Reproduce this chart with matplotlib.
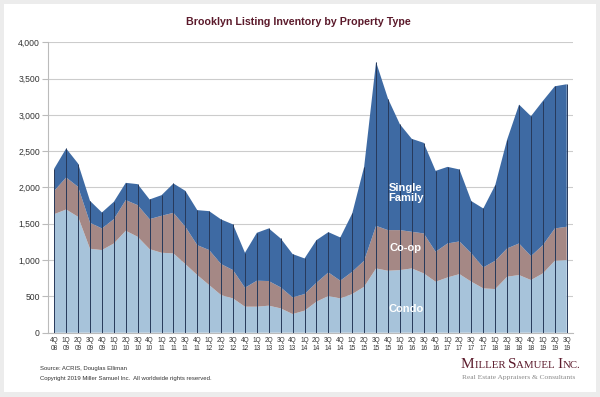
import matplotlib.pyplot as plt
from matplotlib.patches import Rectangle
import numpy as np

quarters = ['4Q\n08',
            '1Q\n09', '2Q\n09', '3Q\n09', '4Q\n09',
            '1Q\n10', '2Q\n10', '3Q\n10', '4Q\n10',
            '1Q\n11', '2Q\n11', '3Q\n11', '4Q\n11',
            '1Q\n12', '2Q\n12', '3Q\n12', '4Q\n12',
            '1Q\n13', '2Q\n13', '3Q\n13', '4Q\n13',
            '1Q\n14', '2Q\n14', '3Q\n14', '4Q\n14',
            '1Q\n15', '2Q\n15', '3Q\n15', '4Q\n15',
            '1Q\n16', '2Q\n16', '3Q\n16', '4Q\n16',
            '1Q\n17', '2Q\n17', '3Q\n17', '4Q\n17',
            '1Q\n18', '2Q\n18', '3Q\n18', '4Q\n18',
            '1Q\n19', '2Q\n19', '3Q\n19']

condo = [1633, 1697, 1596, 1156, 1138, 1229, 1404, 1321, 1151, 1101, 1092, 945,
         794, 656, 518, 472, 358, 358, 372, 335, 257, 303, 427, 505, 472, 532,
         633, 885, 853, 862, 885, 817, 702, 761, 807, 702, 610, 601, 771, 794,
         725, 817, 991, 1000]
coop = [321, 441, 413, 358, 298, 335, 422, 436, 413, 509, 559, 514, 412, 482,
        427, 390, 261, 358, 339, 289, 229, 229, 261, 325, 244, 307, 358, 587,
        560, 551, 505, 550, 413, 468, 450, 390, 289, 390, 390, 435, 330, 389,
        445, 459]
single_family = [307, 399, 321, 302, 220, 239, 238, 289, 271, 284, 404, 495,
                 482, 536, 615, 629, 482, 660, 725, 674, 597, 491, 587, 555, 596,
                 803, 1293, 2257, 1812, 1458, 1280, 1248, 1114, 1055, 991, 720,
                 812, 1041, 1499, 1913, 1927, 1987, 1958, 1963]

yticks = [0, 500, 1000, 1500, 2000, 2500, 3000, 3500, 4000]

c_condo = '#a7c3da'
c_coop = '#a58885'
c_sf = '#3e6aa3'
maroon = '#5b1a2b'

fig = plt.figure(figsize=(6, 3.97), dpi=100)
fig.patch.set_facecolor('#ececec')
fig.patches.append(Rectangle((0.006, 0.012), 0.988, 0.978, transform=fig.transFigure,
                             facecolor='white', edgecolor='none', zorder=-5))

ax = fig.add_axes([0.0805, 0.162, 0.874, 0.7315])
ax.set_zorder(2)
ax.set_facecolor('none')
x = np.arange(len(quarters))
ax.stackplot(x, condo, coop, single_family, colors=[c_condo, c_coop, c_sf],
             linewidth=0, zorder=2)
total = np.array(condo) + np.array(coop) + np.array(single_family)
ax.vlines(x, 0, total, colors='#27395a', linewidth=0.7, zorder=3)

ax.set_xlim(-0.5, len(quarters) - 0.5)
ax.set_ylim(0, 4000)
ax.set_yticks(yticks)
ax.set_yticklabels(['{:,}'.format(v) for v in yticks], fontsize=6.2,
                   family='Liberation Sans', color='#333333')
ax.set_xticks(x)
ax.set_xticklabels(quarters, fontsize=4.7, family='Liberation Sans',
                   color='#333333', linespacing=1.15)
ax.tick_params(axis='x', length=0, pad=3)
ax.tick_params(axis='y', length=4, color='#bbbbbb', width=0.8, pad=2)
ax.grid(axis='y', color='#cccccc', linewidth=0.8, zorder=1)
ax.set_axisbelow(True)
for s in ['top', 'right']:
    ax.spines[s].set_visible(False)
ax.spines['left'].set_color('#bbbbbb')
ax.spines['bottom'].set_color('#bbbbbb')

lab = dict(color='white', fontsize=8, fontweight='bold', family='Liberation Sans',
           ha='center', va='center', zorder=4)
ax.text(29.5, 1925, 'Single\nFamily', linespacing=1.0, **lab)
ax.text(29.5, 1165, 'Co-op', **lab)
ax.text(29.5, 320, 'Condo', **lab)

fig.text(0.497, 0.945, 'Brooklyn Listing Inventory by Property Type', ha='center',
         va='center', fontsize=7.65, fontweight='bold', color=maroon,
         family='Liberation Sans')

fig.text(0.067, 0.073, 'Source: ACRIS, Douglas Elliman', fontsize=4.3,
         family='Liberation Sans', color='#333333', va='center')
fig.text(0.067, 0.046, 'Copyright 2019 Miller Samuel Inc.  All worldwide rights reserved.',
         fontsize=4.3, family='Liberation Sans', color='#333333', va='center')

# small caps logo built piece by piece
pieces = [('M', 11), ('ILLER ', 7.8), ('S', 11), ('AMUEL ', 7.8), ('I', 11), ('NC.', 7.8)]
renderer = fig.canvas.get_renderer()
x0 = 461.0
y0 = 397 - 368.0
for txt, fs in pieces:
    t = fig.text(x0 / 600, y0 / 397, txt, fontsize=fs, family='Liberation Serif',
                 color=maroon, ha='left', va='baseline')
    bb = t.get_window_extent(renderer)
    x0 += bb.width

fig.text(0.77, 0.05, 'Real Estate Appraisers & Consultants', fontsize=5.4,
         family='Liberation Serif', color='#8a8a8a', ha='left', va='center')

fig.savefig('out.png', dpi=100, facecolor=fig.get_facecolor())
